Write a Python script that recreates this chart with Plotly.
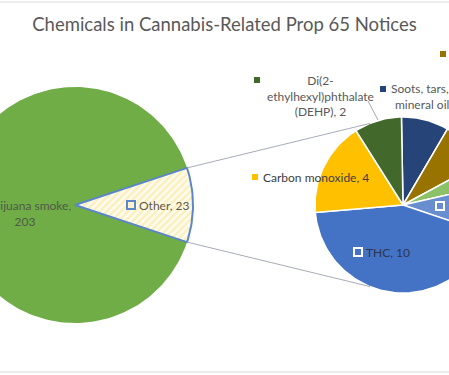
import numpy as np
import plotly.graph_objects as go

# ---------------- data ----------------
title_text = "Chemicals in Cannabis-Related Prop 65 Notices"
main_labels = ["Marijuana smoke", "Other"]
main_values = [203, 23]
sub_labels = ["Soots, tars, and mineral oils", "Benzene", "Lead", "Myrcene",
              "THC", "Carbon monoxide", "Di(2-ethylhexyl)phthalate (DEHP)"]
sub_values = [2, 2, 1, 2, 10, 4, 2]

# ---------------- styles / layout geometry ----------------
main_colors = ["#70ad47", "#fffbe9"]
sub_colors = ["#264478", "#997300", "#8cc168", "#698ed0", "#4472c4", "#ffc000", "#43682b"]
W, H = 449, 375
L_C, L_R = (75.0, 205.0), 118.0
R_C, R_R = (403.0, 205.0), 88.0
R_START = 91.0          # first slice of the second pie starts here (deg, clockwise)
CONNECT_ANG = 112.0     # where connector lines meet the second pie
FONT = "Lato"
TXT = "#595959"


def pt(c, r, deg):
    a = np.deg2rad(deg)
    return c[0] + r * np.cos(a), c[1] - r * np.sin(a)


def wedge(c, r, a0, a1):
    n = max(int(abs(a1 - a0) / 1.5), 4)
    angs = np.linspace(a0, a1, n)
    xs, ys = pt(c, r, angs)
    return [c[0], *xs, c[0]], [c[1], *ys, c[1]]


fig = go.Figure()

# ---- primary pie ----
total = sum(main_values)
other_span = 360.0 * main_values[1] / total
x, y = wedge(L_C, L_R, other_span / 2, 360 - other_span / 2)
fig.add_trace(go.Scatter(x=x, y=y, mode="lines", fill="toself",
                         fillcolor=main_colors[0], line=dict(width=0),
                         name=main_labels[0], hoverinfo="name"))
x, y = wedge(L_C, L_R, -other_span / 2, other_span / 2)
fig.add_trace(go.Scatter(x=x, y=y, mode="lines", fill="toself",
                         fillcolor=main_colors[1],
                         fillpattern=dict(shape="/", fgcolor="#fbdf86", bgcolor="#fffdf2",
                                          size=5, solidity=0.5),
                         line=dict(color="#5b86c9", width=2),
                         name=main_labels[1], hoverinfo="name"))

# ---- secondary pie ----
sub_total = sum(sub_values)
a = R_START
for lab_, v, col in zip(sub_labels, sub_values, sub_colors):
    span = 360.0 * v / sub_total
    x, y = wedge(R_C, R_R, a, a - span)
    fig.add_trace(go.Scatter(x=x, y=y, mode="lines", fill="toself", fillcolor=col,
                             line=dict(color="white", width=1.5),
                             name=lab_, hoverinfo="name"))
    a -= span

# ---- connector lines ----
for s in (1, -1):
    x0, y0 = pt(L_C, L_R, s * other_span / 2)
    x1, y1 = pt(R_C, R_R, s * CONNECT_ANG)
    fig.add_trace(go.Scatter(x=[x0, x1], y=[y0, y1], mode="lines",
                             line=dict(color="#a7acb8", width=1), hoverinfo="skip"))

# DEHP leader line
fig.add_trace(go.Scatter(x=[368, 378], y=[101, 120], mode="lines",
                         line=dict(color="#a6a6a6", width=1), hoverinfo="skip"))

# ---- label keys (legend-key squares beside data labels) ----
keys = [
    (131, 205, "#fff2cc", "#5b86c9"),            # Other
    (358, 252, sub_colors[4], "white"),          # THC
    (440, 206, sub_colors[3], "white"),          # light blue
    (255, 177, sub_colors[5], "white"),          # Carbon monoxide
    (257, 80, sub_colors[6], "white"),           # DEHP
    (383, 89, sub_colors[0], "white"),           # Soots
    (443, 54, sub_colors[1], "white"),           # gold
]
for kx, ky, kf, kb in keys:
    fig.add_trace(go.Scatter(x=[kx], y=[ky], mode="markers",
                             marker=dict(symbol="square", size=8, color=kf,
                                         line=dict(color=kb, width=2)),
                             hoverinfo="skip"))


def lab(text, x, y, xanchor="left", color=TXT, align="center"):
    fig.add_annotation(x=x, y=y, xref="x", yref="y", text=text, showarrow=False,
                       xanchor=xanchor, yanchor="middle", align=align,
                       font=dict(family=FONT, size=12, color=color))


lab(f"{main_labels[0]},<br>{main_values[0]}", 25, 213, xanchor="center", color="#4f5a47")
lab(f"{main_labels[1]}, {main_values[1]}", 137, 205, color="#5f5a4a")
lab(f"{sub_labels[4]}, {sub_values[4]}", 364, 252, color="#2b3550")
lab(f"{sub_labels[5]}, {sub_values[5]}", 261, 177, color="#404040")
lab("Di(2-<br>ethylhexyl)phthalate<br>(DEHP), " + str(sub_values[6]), 320, 96,
    xanchor="center", color=TXT)
lab("Soots, tars, and<br>mineral oils, " + str(sub_values[0]), 389, 96, color=TXT)

# ---- frame lines ----
for yy in (2, 372):
    fig.add_shape(type="line", x0=0, x1=W, y0=yy, y1=yy, xref="x", yref="y",
                  line=dict(color="#d9d9d9", width=1))

fig.update_layout(
    width=W, height=H, margin=dict(l=0, r=0, t=0, b=0),
    paper_bgcolor="white", plot_bgcolor="white", showlegend=False,
    title=dict(text=title_text, x=0.5, xanchor="center", y=1 - 25 / H, yanchor="middle",
               font=dict(family=FONT, size=18.5, color="#595959")),
    xaxis=dict(range=[0, W], visible=False, fixedrange=True),
    yaxis=dict(range=[H, 0], visible=False, fixedrange=True),
)

fig.write_html("out.html", config={"displayModeBar": False},
               post_script="document.body.style.margin='0';document.body.style.overflow='hidden';")
